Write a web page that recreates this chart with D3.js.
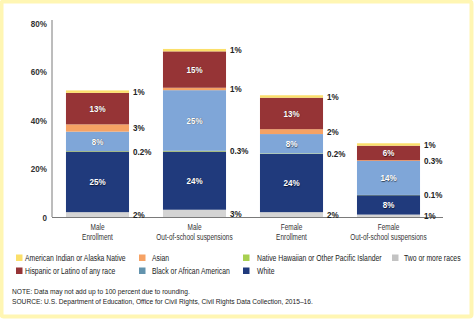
<!DOCTYPE html>
<html>
<head>
<meta charset="utf-8">
<script src="https://cdn.jsdelivr.net/npm/d3@7"></script>
<style>
  html, body { margin: 0; padding: 0; background: #fff; }
  svg { display: block; }
  text { font-family: "Liberation Sans Narrow", "Arial Narrow", "Liberation Sans", sans-serif; }
</style>
</head>
<body>
<svg id="chart" width="475" height="322"></svg>
<script>
// Groups along the x axis (two-line labels)
const categories = ["Male Enrollment", "Male Out-of-school suspensions", "Female Enrollment", "Female Out-of-school suspensions"];
const categoryLine1 = ["Male", "Male", "Female", "Female"];
const categoryLine2 = ["Enrollment", "Out-of-school suspensions", "Enrollment", "Out-of-school suspensions"];

// Race/ethnicity series, stacked bottom to top (percent of all students)
const seriesNames = ["Two or more races", "White", "Native Hawaiian or Other Pacific Islander", "Black or African American", "Asian", "Hispanic or Latino of any race", "American Indian or Alaska Native"];
const twoOrMore = [2, 3, 2, 1];
const white = [25, 24, 24, 8];
const nhpi = [0.2, 0.3, 0.2, 0.1];
const black = [8, 25, 8, 14];
const asian = [3, 1, 2, 0.3];
const hispanic = [13, 15, 13, 6];
const aian = [1, 1, 1, 1];

const yTicks = [0, 20, 40, 60, 80];
const yTickLabels = ["0", "20%", "40%", "60%", "80%"];

// Legend order (row-major, 4 columns)
const legendOrder = ["American Indian or Alaska Native", "Asian", "Native Hawaiian or Other Pacific Islander", "Two or more races",
                     "Hispanic or Latino of any race", "Black or African American", "White"];

const barColor = {
  "Two or more races": "#d4d4d4",
  "White": "#203a7c",
  "Native Hawaiian or Other Pacific Islander": "#b5d44a",
  "Black or African American": "#7fa6d8",
  "Asian": "#f6a264",
  "Hispanic or Latino of any race": "#963436",
  "American Indian or Alaska Native": "#fbdf6a"
};
const legendColor = Object.assign({}, barColor, {
  "Black or African American": "#6393ad",
  "Two or more races": "#c3c3c3",
  "Native Hawaiian or Other Pacific Islander": "#a8d050"
});
// Series whose labels sit inside the bar; others are labelled at the right
const insideSeries = new Set(["White", "Black or African American", "Hispanic or Latino of any race"]);

const seriesValues = [twoOrMore, white, nhpi, black, asian, hispanic, aian];
const rows = categories.map((c, i) => {
  const r = { category: c };
  seriesNames.forEach((s, k) => { r[s] = seriesValues[k][i]; });
  return r;
});

// Squeeze text horizontally (condensed look) by moving its anchor into a transform
function condense(sel, ratio) {
  sel.each(function () {
    const t = d3.select(this);
    const tx = +t.attr("x") || 0, ty = +t.attr("y") || 0;
    t.attr("x", 0).attr("y", 0)
      .attr("transform", `translate(${tx},${ty}) scale(${ratio},1)`);
  });
  return sel;
}

const svg = d3.select("#chart");

// Pale yellow frame
svg.append("rect")
  .attr("x", 1.5).attr("y", 1.5).attr("width", 470).attr("height", 315)
  .attr("rx", 2)
  .attr("fill", "#fff").attr("stroke", "#fff6b3").attr("stroke-width", 4);

const x = d3.scaleBand().domain(categories).range([52, 434]).paddingInner(0.35).paddingOuter(0.144);
const y = d3.scaleLinear().domain([0, 80]).range([217, 23]);

const stacked = d3.stack().keys(seriesNames)(rows);

// Y axis
const yAxis = d3.axisLeft(y).tickValues(yTicks).tickFormat((d, i) => yTickLabels[i]).tickSize(0).tickPadding(5);
const gy = svg.append("g").attr("transform", "translate(52,0)").call(yAxis);
gy.select(".domain").attr("stroke", "#7a7a7a").attr("stroke-width", 1).attr("d", "M0," + (y(80) - 3) + "V" + y(0));
gy.selectAll("text").attr("font-size", 9.5).attr("font-weight", "bold").attr("fill", "#333")
  .attr("font-family", "'Liberation Sans Narrow', 'Arial Narrow', 'Liberation Sans', sans-serif");
condense(gy.selectAll("text"), 0.85);

// Bars
const layers = svg.append("g").selectAll("g").data(stacked).join("g")
  .attr("fill", d => barColor[d.key]);
layers.selectAll("rect").data(d => d).join("rect")
  .attr("x", d => x(d.data.category))
  .attr("width", x.bandwidth())
  .attr("y", d => y(d[1]))
  .attr("height", d => y(d[0]) - y(d[1]));

// Baseline
svg.append("line").attr("x1", 52).attr("x2", 443).attr("y1", y(0) + 0.5).attr("y2", y(0) + 0.5)
  .attr("stroke", "#7a7a7a").attr("stroke-width", 1);

// Value labels
const fmt = v => v + "%";
const valueLabels = svg.append("g");
stacked.forEach(layer => {
  const inside = insideSeries.has(layer.key);
  layer.forEach(d => {
    const v = d.data[layer.key];
    const cy = (y(d[0]) + y(d[1])) / 2;
    const t = valueLabels.append("text")
      .attr("y", cy).attr("dy", "0.35em")
      .attr("font-size", 9.5).attr("font-weight", "bold")
      .text(fmt(v));
    if (inside) {
      t.attr("x", x(d.data.category) + x.bandwidth() / 2)
        .attr("text-anchor", "middle")
        .attr("fill", "#fff")
        .style("text-shadow", "0.5px 0.5px 1px rgba(0,0,0,0.6)");
    } else {
      t.attr("x", x(d.data.category) + x.bandwidth() + 4)
        .attr("fill", "#222");
    }
  });
});
condense(valueLabels.selectAll("text"), 0.85);

// Category labels
const catLabels = svg.append("g");
categories.forEach((c, i) => {
  const cx = x(c) + x.bandwidth() / 2;
  catLabels.append("text").attr("x", cx).attr("y", 229.5).attr("text-anchor", "middle")
    .attr("font-size", 8.5).attr("fill", "#333").text(categoryLine1[i]);
  catLabels.append("text").attr("x", cx).attr("y", 239.5).attr("text-anchor", "middle")
    .attr("font-size", 8.5).attr("fill", "#333").text(categoryLine2[i]);
});
condense(catLabels.selectAll("text"), 0.76);

// Legend
const swatchX = [16, 139, 243, 392];
const labelX = [25, 152, 257, 404];
const legendRows = [258, 271];
const legendLabels = svg.append("g");
legendOrder.forEach((name, i) => {
  const col = i % 4, ly = legendRows[Math.floor(i / 4)];
  svg.append("rect").attr("x", swatchX[col]).attr("y", ly - 3.5).attr("width", 6.5).attr("height", 6.5)
    .attr("fill", legendColor[name]);
  legendLabels.append("text").attr("x", labelX[col]).attr("y", ly).attr("dy", "0.35em")
    .attr("font-size", 9).attr("fill", "#222").text(name);
});
condense(legendLabels.selectAll("text"), 0.76);

// Notes
const notes = svg.append("g");
notes.append("text").attr("x", 12).attr("y", 294).attr("font-size", 7).attr("fill", "#222")
  .text("NOTE: Data may not add up to 100 percent due to rounding.");
notes.append("text").attr("x", 12).attr("y", 304).attr("font-size", 7).attr("fill", "#222")
  .text("SOURCE: U.S. Department of Education, Office for Civil Rights, Civil Rights Data Collection, 2015–16.");
condense(notes.selectAll("text"), 0.95);
</script>
</body>
</html>
